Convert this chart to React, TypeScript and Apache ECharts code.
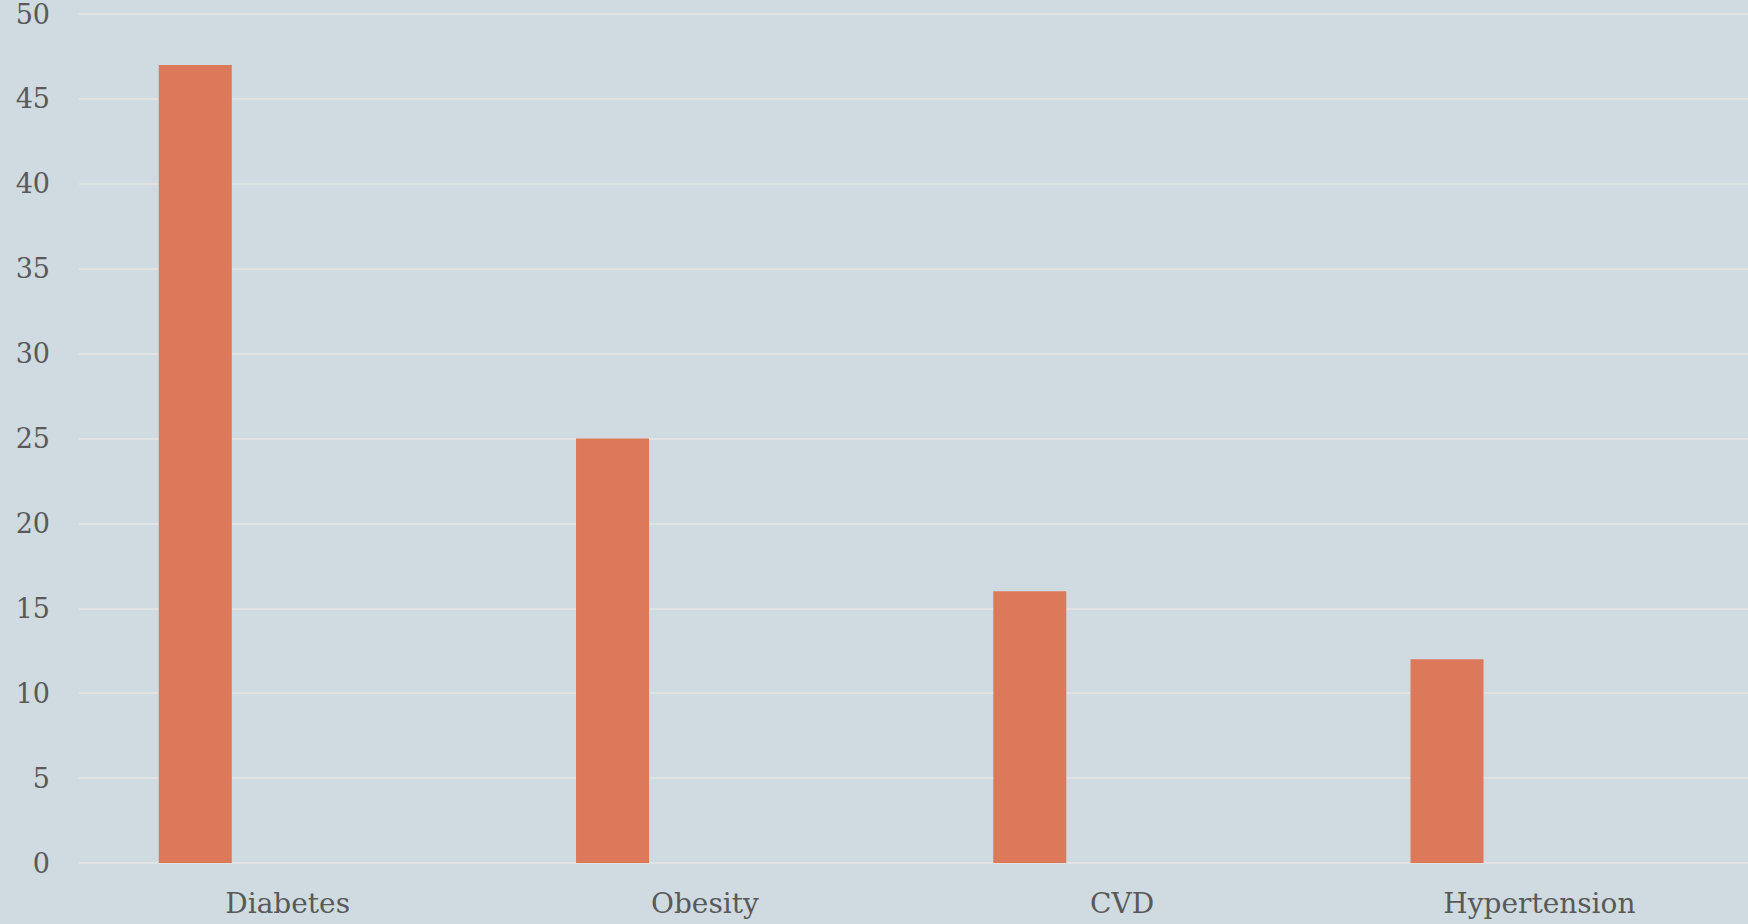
import React, { useEffect, useRef } from "react";
import * as echarts from "echarts";

const categories = ["Diabetes", "Obesity", "CVD", "Hypertension"];
const values = [47, 25, 16, 12];
const emptyValues = [null, null, null, null];
const yTicks = { min: 0, max: 50, interval: 5 };

export default function App() {
  const ref = useRef<HTMLDivElement>(null);
  useEffect(() => {
    document.body.style.margin = "0";
    const chart = echarts.init(ref.current!, null, { renderer: "svg" });
    const font = "Georgia, 'DejaVu Serif', serif";
    chart.setOption({
      animation: false,
      backgroundColor: "#cfdbe0",
      grid: { left: 79, right: 0, top: 14, bottom: 61, containLabel: false },
      xAxis: {
        type: "category",
        data: categories,
        axisLine: { show: false },
        axisTick: { show: false },
        axisLabel: { color: "#595959", fontFamily: font, fontSize: 28, margin: 26 },
      },
      yAxis: {
        type: "value",
        min: yTicks.min,
        max: yTicks.max,
        interval: yTicks.interval,
        axisLine: { show: false },
        axisTick: { show: false },
        splitLine: { lineStyle: { color: "#e1e3e3", width: 2 } },
        axisLabel: { color: "#595959", fontFamily: font, fontSize: 27, margin: 29, padding: [6, 0, 0, 0] },
      },
      series: [
        {
          type: "bar",
          data: values,
          barWidth: 73,
          barGap: "153%",
          itemStyle: { color: "#dc795b" },
        },
        {
          type: "bar",
          data: emptyValues,
          barWidth: 73,
        },
      ],
    });
    return () => chart.dispose();
  }, []);
  return <div ref={ref} style={{ width: 1748, height: 924 }} />;
}
